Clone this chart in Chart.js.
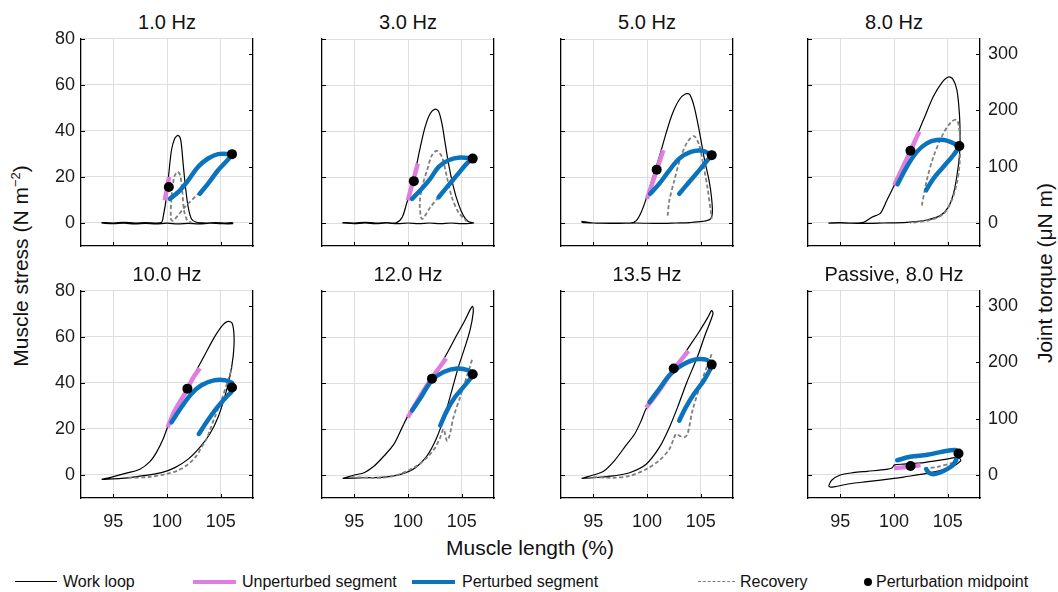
<!DOCTYPE html>
<html>
<head>
<meta charset="utf-8">
<script src="https://cdn.jsdelivr.net/npm/chart.js@4.4.0/dist/chart.umd.min.js"></script>
<style>
  body { margin: 0; background: #fff; font-family: "Liberation Sans", Arial, sans-serif; color: #111; }
  #fig { position: relative; width: 1058px; height: 592px; overflow: hidden; }
  #fig canvas { position: absolute; }
  .title { position: absolute; width: 172px; text-align: center; font-size: 20px; line-height: 22px; }
  .lab { position: absolute; font-size: 21px; white-space: nowrap; transform: translate(-50%, -50%); }
  .rot { transform: translate(-50%, -50%) rotate(-90deg); }
  .leg { position: absolute; top: 573px; height: 18px; font-size: 16px; line-height: 18px; white-space: nowrap; }
  .mark { position: absolute; }
</style>
</head>
<body>
<div id="fig">
  <div class="lab rot" style="left:20px; top:266px;">Muscle stress (N m<sup style="font-size:13px">−2</sup>)</div>
  <div class="lab rot" style="left:1045px; top:273px;">Joint torque (μN m)</div>
  <div class="lab" style="left:530px; top:548px;">Muscle length (%)</div>

  <div class="mark" style="left:15px; top:581px; width:42px; border-top:1.3px solid #000;"></div>
  <div class="leg" style="left:63px;">Work loop</div>
  <div class="mark" style="left:193px; top:580px; width:43px; border-top:4px solid #e07ee0;"></div>
  <div class="leg" style="left:242px;">Unperturbed segment</div>
  <div class="mark" style="left:412px; top:580px; width:43px; border-top:4px solid #0b72bd;"></div>
  <div class="leg" style="left:462px;">Perturbed segment</div>
  <div class="mark" style="left:698px; top:581px; width:37px; border-top:1.8px dashed #7f7f7f;"></div>
  <div class="leg" style="left:740px;">Recovery</div>
  <div class="mark" style="left:864px; top:578px; width:8px; height:8px; border-radius:50%; background:#000;"></div>
  <div class="leg" style="left:876px;">Perturbation midpoint</div>
</div>
<script>
const titles = ['1.0 Hz', '3.0 Hz', '5.0 Hz', '8.0 Hz', '10.0 Hz', '12.0 Hz', '13.5 Hz', 'Passive, 8.0 Hz'];
const xTicks = [95, 100, 105];
const stressTicks = [0, 20, 40, 60, 80];
const torqueTicks = [0, 100, 200, 300];
const torquePerStress = 4.086;

// 1.0 Hz
const loop1 = [[93.9,0.2],[95,0],[96,0.3],[97,0],[98,0.2],[99,0],[99.5,0.3],[99.64,2.5],[99.95,11.2],[100.17,21.5],[100.42,31.7],[100.73,36.8],[101.04,38],[101.28,36],[101.5,25.8],[101.72,15.6],[101.97,6.9],[102.28,1.75],[102.74,0.3],[103.5,0],[104.5,0.2],[105.5,0],[106.1,0.1],[106.1,-0.3],[105,-0.3],[104,-0.1],[103,-0.4],[102,-0.2],[101,-0.4],[100,-0.1],[99,-0.4],[98,-0.2],[97,-0.4],[96,-0.1],[95,-0.3],[93.9,-0.1]];
const rec1 = [[103.05,13.4],[101.66,6.9],[100.57,1.0],[100.36,1.75],[100.42,11.2],[100.67,20],[100.98,22.2],[101.22,20.7],[101.41,14.2],[101.59,5.4],[101.9,1.0],[102.28,0.1]];
const unp1 = [[99.8,9.8],[100.0,15],[100.2,20]];
const pert1a = [[100.26,10.5],[101.04,13.4],[101.97,18.5],[102.9,24.4],[103.82,28],[104.75,29.9],[105.99,29.9]];
const pert1b = [[103.05,12.7],[103.82,17.1],[104.75,22.9],[105.68,27.6],[105.99,29.5]];
const mid1 = [[100.17,15.6],[106.05,29.9]];

// 3.0 Hz
const loop2 = [[93.9,0.2],[95,0],[96,0.3],[97,0],[98,0.2],[98.9,0.1],[99.46,2.5],[99.86,8.3],[100.23,14.2],[100.69,22.9],[101.15,33.1],[101.6,41.9],[102.08,47.7],[102.54,49.5],[102.85,48.5],[103.15,43.4],[103.46,34.6],[103.77,25.8],[104.23,15.6],[104.69,8.3],[105.15,3.2],[105.6,0.7],[106.1,0],[105,-0.3],[104,0],[103,-0.3],[102,0],[101,-0.3],[100,0],[99,-0.3],[98,0],[97,-0.3],[96,0],[95,-0.3],[93.9,0]];
const rec2 = [[102.85,11.2],[102.08,6.9],[101.31,1.75],[101.09,8.3],[101.31,15.6],[101.77,22.9],[102.23,29.5],[102.69,31.4],[103.15,28.8],[103.62,20],[104.08,11.2],[104.69,4.7],[105.46,0.7]];
const unp2 = [[99.98,9.8],[100.45,17.8],[100.91,25.8]];
const pert2a = [[100.38,10.5],[101.15,14.2],[102.08,19.3],[102.85,24.4],[103.77,27.3],[104.85,28.5],[106.02,28]];
const pert2b = [[102.85,11.2],[103.62,15.6],[104.54,20.7],[105.46,25.8],[106.02,28]];
const mid2 = [[100.54,18.2],[106.02,28]];

// 5.0 Hz
const loop3 = [[93.9,0.7],[95,0],[96,0],[97,0],[98.5,0],[99,1],[99.46,4.7],[99.92,10.5],[100.54,20],[101.15,28.8],[101.77,39],[102.38,47.7],[103,53.6],[103.6,56.2],[103.98,55.8],[104.38,50.7],[104.85,40.4],[105.3,28.8],[105.77,18.5],[106.0,11.2],[106.08,4.7],[105.9,1.75],[105.15,0.7],[104,0.2],[102.7,0],[101,-0.2],[99,0],[97,-0.2],[95,0],[93.9,0.3]];
const rec3 = [[101.92,3.2],[102.08,9.8],[102.54,18.5],[103.15,28.8],[103.77,35.3],[104.38,37.8],[104.85,33.9],[105.22,25.8],[105.62,15.6],[105.92,5.4],[106.02,1.75]];
const unp3 = [[100,10.5],[100.76,21],[101.52,31.7]];
const pert3a = [[100.29,12.7],[101.15,17.1],[102.08,22.9],[103,28],[104.08,30.9],[105.15,31.4],[106.02,29.5]];
const pert3b = [[103,12.7],[103.92,17.8],[104.85,22.9],[105.62,27.3],[106.02,29.5]];
const mid3 = [[100.9,23.2],[106.02,29.5]];

// 8.0 Hz
const loop4 = [[93.9,0],[95,0.2],[96,0],[97.17,0.3],[97.94,2.5],[98.72,4.2],[99.33,9.8],[100.02,16.4],[100.88,25.8],[101.81,34.6],[102.74,44.8],[103.67,55],[104.44,60.9],[105.06,63.4],[105.46,62.6],[105.84,58],[106.08,47.7],[106.15,36],[106.08,28.8],[105.84,20],[105.53,12.7],[105.06,6.9],[104.29,3.2],[103.05,1.3],[101.19,0.3],[99,0],[97,-0.2],[95,0],[93.9,-0.1]];
const rec4 = [[102.59,7.6],[103.05,18.5],[103.67,28.8],[104.6,39],[105.37,44.1],[105.84,44.8],[106.08,40.4],[106.15,31.7],[106.08,24.4],[105.84,17.1],[105.37,9.8],[104.6,3.9],[103.36,1.3],[101.5,0]];
const unp4 = [[100.02,16.4],[101.2,28],[102.35,39.7]];
const pert4a = [[100.33,16.8],[101.19,24.4],[102.12,30.9],[103.05,34.6],[103.98,36],[104.91,35.8],[106.08,33.4]];
const pert4b = [[102.99,14.2],[103.67,19.3],[104.6,24.4],[105.53,29.5],[106.08,33.1]];
const mid4 = [[101.53,31.4],[106.08,33.4]];

// 10.0 Hz
const loop5 = [[93.92,-1.9],[94.85,-0.9],[96.39,1.0],[97.48,2.5],[98.41,5.8],[99.02,9.8],[99.64,15.6],[100.05,20.7],[100.73,28],[101.66,35.3],[102.59,44.1],[103.51,52.1],[104.44,60.1],[105.22,65.3],[105.68,66.7],[106.05,66],[106.24,60.1],[106.15,51.4],[105.84,42.6],[105.37,33.9],[104.75,25.1],[103.98,17.8],[103.05,12],[101.97,6.9],[100.73,3.2],[99.49,1.0],[97.63,-0.4],[95.77,-1.5],[93.92,-1.9]];
const rec5 = [[96.39,-1.2],[98.25,-0.9],[99.8,0.3],[101.04,2.0],[101.97,4.7],[102.74,8.3],[103.2,12],[103.67,15.6],[103.98,19.3],[104.44,25.1],[105.06,32.4],[105.68,41.2],[106.05,46.7]];
const unp5 = [[100.05,20.7],[100.73,28],[101.66,35.3],[102.4,42],[103.05,46.3]];
const pert5a = [[100.42,22.9],[101.35,29.5],[102.28,35.3],[103.2,39],[104.44,41.2],[105.37,41.2],[106.05,40]];
const pert5b = [[102.96,17.8],[103.67,22.9],[104.44,28],[105.37,33.1],[105.99,36.1]];
const mid5 = [[101.9,37.5],[106.05,38]];

// 12.0 Hz
const loop6 = [[93.92,-1.5],[95,0],[95.92,1],[96.85,3.9],[97.77,8.3],[98.69,13.4],[99.46,20.7],[100,25.8],[100.85,32.4],[101.77,39],[102.69,45.5],[103.62,52.8],[104.54,60.9],[105.31,67.4],[105.77,71.8],[106,73.3],[106.06,70.4],[105.77,63],[105.31,55.8],[104.69,47],[104.08,36.8],[103.46,26.6],[102.69,16.4],[101.77,8.3],[100.69,3.2],[99.31,0.3],[97.77,-0.9],[95.92,-1.2],[93.92,-1.5]];
const rec6 = [[94.69,-0.9],[97.46,-1.2],[99,0],[100.54,3.2],[101.77,7.6],[102.54,12],[103,16.4],[103.31,20],[103.62,14.9],[103.86,17.1],[104.23,25.1],[104.85,33.9],[105.46,42.6],[106.02,51.1]];
const unp6 = [[99.98,25.1],[100.85,32],[101.77,39],[102.7,45.3],[103.55,50.7]];
const pert6a = [[100.38,28],[101.31,34.6],[102.23,41.2],[103.31,44.8],[104.54,46.3],[105.62,45.5],[106.02,43.8]];
const pert6b = [[103,21.5],[103.62,28],[104.38,33.9],[105.15,38.2],[105.92,42.6]];
const mid6 = [[102.23,41.9],[106.02,43.8]];

// 13.5 Hz
const loop7 = [[93.92,-1.5],[95,0],[95.92,1.5],[97,6.4],[98.08,13.1],[98.85,17.8],[99.46,23.6],[99.92,28.8],[100.85,34.6],[101.92,41.9],[103,49.2],[103.92,55.8],[104.85,62.3],[105.62,68.2],[106.02,71.5],[106.14,70.1],[105.46,61.6],[104.69,51.4],[103.68,40],[102.85,29.5],[102.02,20],[101.15,12],[99.92,4.7],[98.38,1],[96.85,-0.4],[95,-1.2],[93.92,-1.5]];
const rec7 = [[95,-0.9],[96.85,-1.2],[98.38,-0.4],[99.92,2.5],[101.15,6.4],[102.08,11.2],[102.69,17.8],[103,17.1],[103.46,16.4],[103.77,17.8],[104.23,28],[105,39.7],[105.62,47.7],[106.02,52.6]];
const unp7 = [[99.92,29.2],[101.15,36.8],[102.54,46.3],[103.86,54]];
const pert7a = [[100.23,31.7],[101.15,37.5],[102.08,43.4],[103,47],[104.23,49.9],[105.46,50.2],[106.02,48.5]];
const pert7b = [[103,23.6],[103.62,29.5],[104.38,35.3],[105.31,41.2],[105.92,46.3]];
const mid7 = [[102.48,46.3],[106.02,48]];

// Passive, 8.0 Hz
const loop8 = [[93.92,-4.8],[94.2,-2.3],[95,0],[96.2,1],[97.5,1.6],[99.3,2.4],[99.8,3.0],[100.06,4.4],[100.9,4.7],[102.8,5.4],[104.9,6.9],[106,7.6],[106.2,6.1],[105.2,3.2],[103.4,1],[100.9,-0.9],[100,-1.5],[97.5,-2.9],[95.9,-3.8],[94.6,-5],[94.1,-5.3],[93.92,-4.8]];
const rec8 = [[102.8,2.9],[104,3.5],[105.55,5.4],[106,6]];
const unp8 = [[100,2.9],[101.2,3.5],[102.47,4.2]];
const pert8a = [[100.3,6.4],[101.5,7.9],[103.1,8.8],[104.6,10.2],[105.7,10.8],[106,9.8]];
const pert8b = [[106,9.3],[105.55,4.7],[104.6,1.75],[103.7,0.3],[103.24,1],[103,2.5]];
const mid8 = [[101.54,3.9],[106,9.3]];

const panels = [
  { loop: loop1, rec: rec1, unp: unp1, pa: pert1a, pb: pert1b, mid: mid1 },
  { loop: loop2, rec: rec2, unp: unp2, pa: pert2a, pb: pert2b, mid: mid2 },
  { loop: loop3, rec: rec3, unp: unp3, pa: pert3a, pb: pert3b, mid: mid3 },
  { loop: loop4, rec: rec4, unp: unp4, pa: pert4a, pb: pert4b, mid: mid4 },
  { loop: loop5, rec: rec5, unp: unp5, pa: pert5a, pb: pert5b, mid: mid5 },
  { loop: loop6, rec: rec6, unp: unp6, pa: pert6a, pb: pert6b, mid: mid6 },
  { loop: loop7, rec: rec7, unp: unp7, pa: pert7a, pb: pert7b, mid: mid7 },
  { loop: loop8, rec: rec8, unp: unp8, pa: pert8a, pb: pert8b, mid: mid8 }
];

const colLeft = [81, 322, 561, 808];
const rowTop = [39, 291];
const PW = 172, PH = 207;
const tickFont = { family: '"Liberation Sans", Arial, sans-serif', size: 18 };

// small ticks pointing into the plot, like the original figure
const innerTicks = {
  id: 'innerTicks',
  afterDraw(chart) {
    const ctx = chart.ctx, a = chart.chartArea;
    const sx = chart.scales.x, sy = chart.scales.y, sy2 = chart.scales.y2;
    ctx.save();
    ctx.strokeStyle = '#000';
    ctx.lineWidth = 1;
    ctx.beginPath();
    sx.ticks.forEach(t => { const p = Math.round(sx.getPixelForValue(t.value)) + 0.5; ctx.moveTo(p, a.bottom); ctx.lineTo(p, a.bottom - 4); });
    sy.ticks.forEach(t => { const p = Math.round(sy.getPixelForValue(t.value)) + 0.5; ctx.moveTo(a.left, p); ctx.lineTo(a.left + 4, p); });
    sy2.ticks.forEach(t => { const p = Math.round(sy2.getPixelForValue(t.value)) + 0.5; ctx.moveTo(a.right, p); ctx.lineTo(a.right - 4, p); });
    ctx.stroke();
    ctx.restore();
  }
};

function pts(arr) {
  return arr.map(p => ({ x: p[0], y: p[1] }));
}

function makePanel(i) {
  const col = i % 4, row = Math.floor(i / 4);
  const padL = 52, padT = 12, padB = 36, padR = col === 3 ? 60 : 6;
  const p = panels[i];
  const fig = document.getElementById('fig');

  const title = document.createElement('div');
  title.className = 'title';
  title.style.left = colLeft[col] + 'px';
  title.style.top = (rowTop[row] - 28) + 'px';
  title.textContent = titles[i];
  fig.appendChild(title);

  const cv = document.createElement('canvas');
  const w = padL + PW + padR, h = padT + PH + padB;
  cv.width = w;
  cv.height = h;
  cv.style.width = w + 'px';
  cv.style.height = h + 'px';
  fig.appendChild(cv);

  const chart = new Chart(cv, {
    type: 'scatter',
    data: {
      datasets: [
        { data: pts(p.mid), showLine: false, pointRadius: 5, pointBackgroundColor: '#000', pointBorderWidth: 0, order: 0 },
        { data: pts(p.pa), showLine: true, pointRadius: 0, borderColor: '#0b72bd', borderWidth: 4.5, tension: 0.35, borderCapStyle: 'round', order: 1 },
        { data: pts(p.pb), showLine: true, pointRadius: 0, borderColor: '#0b72bd', borderWidth: 4.5, tension: 0.35, borderCapStyle: 'round', order: 1 },
        { data: pts(p.unp), showLine: true, pointRadius: 0, borderColor: '#e07ee0', borderWidth: 4.5, tension: 0.3, order: 2 },
        { data: pts(p.rec), showLine: true, pointRadius: 0, borderColor: '#7f7f7f', borderWidth: 1.8, borderDash: [4, 2.5], tension: 0.3, order: 3 },
        { data: pts(p.loop), showLine: true, pointRadius: 0, borderColor: '#000', borderWidth: 1.2, tension: 0.3, order: 4 }
      ]
    },
    options: {
      responsive: false,
      maintainAspectRatio: false,
      animation: false,
      layout: { padding: { top: padT, left: 0, right: 0, bottom: 0 } },
      plugins: { legend: { display: false }, tooltip: { enabled: false } },
      scales: {
        x: {
          type: 'linear', min: 92, max: 108,
          afterBuildTicks: s => { s.ticks = xTicks.map(v => ({ value: v })); },
          afterFit: s => { s.height = padB; },
          grid: { color: '#dedede', drawTicks: false },
          border: { color: '#000', width: 1.3 },
          ticks: { padding: 13, font: tickFont, color: '#1a1a1a', display: row === 1 }
        },
        y: {
          type: 'linear', position: 'left', min: -10, max: 80,
          afterBuildTicks: s => { s.ticks = stressTicks.map(v => ({ value: v })); },
          afterFit: s => { s.width = padL; },
          grid: { color: '#dedede', drawTicks: false },
          border: { color: '#000', width: 1.3 },
          ticks: { padding: 6, font: tickFont, color: '#1a1a1a', display: col === 0 }
        },
        y2: {
          type: 'linear', position: 'right', min: -10 * torquePerStress, max: 80 * torquePerStress,
          afterBuildTicks: s => { s.ticks = torqueTicks.map(v => ({ value: v })); },
          afterFit: s => { s.width = padR; },
          grid: { drawOnChartArea: false, drawTicks: false },
          border: { color: '#000', width: 1.3 },
          ticks: { padding: 8, font: tickFont, color: '#1a1a1a', display: col === 3 }
        }
      }
    },
    plugins: [innerTicks]
  });

  // make the plot area exactly PW x PH and put it where the reference has it
  let a = chart.chartArea;
  const dw = PW - (a.right - a.left), dh = PH - (a.bottom - a.top);
  if (Math.abs(dw) > 0.5 || Math.abs(dh) > 0.5) {
    chart.resize(Math.round(w + dw), Math.round(h + dh));
    a = chart.chartArea;
  }
  cv.style.left = (colLeft[col] - a.left) + 'px';
  cv.style.top = (rowTop[row] - a.top) + 'px';
}

for (let i = 0; i < panels.length; i++) makePanel(i);
</script>
</body>
</html>
